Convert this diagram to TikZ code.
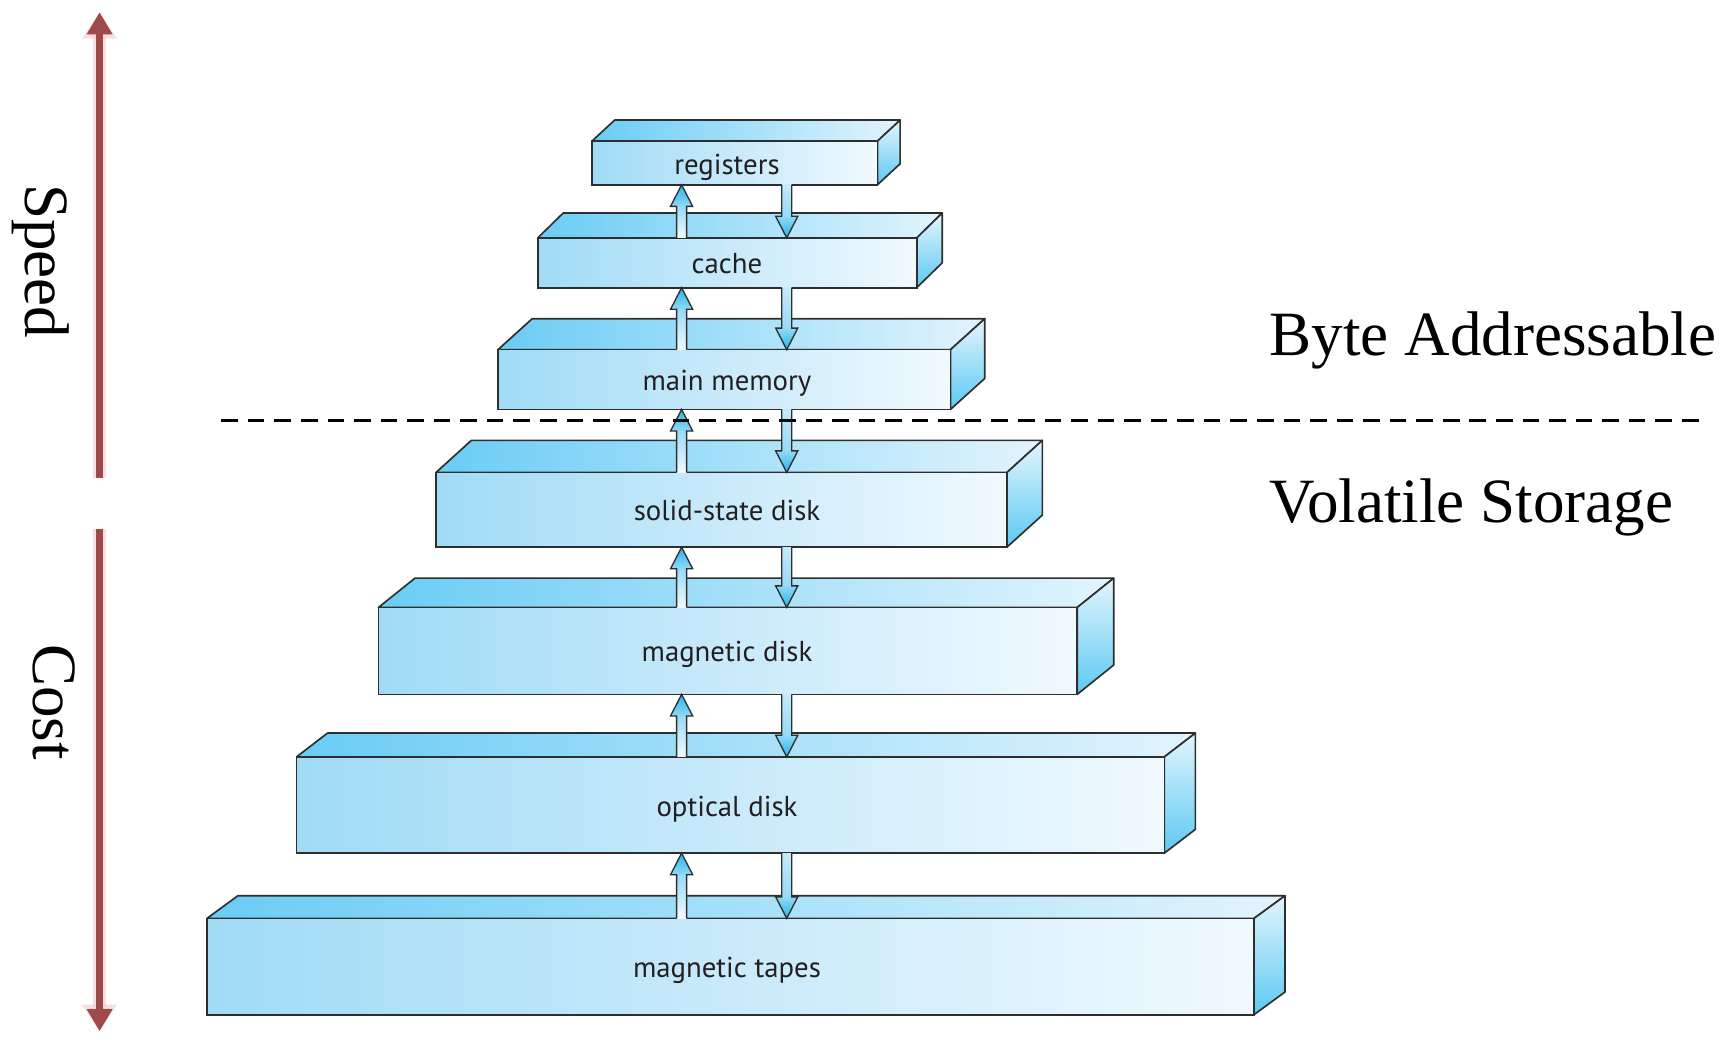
\documentclass[tikz,border=0pt]{standalone}
\usepackage{fontspec}
\setmainfont{Liberation Serif}
\newfontfamily\lblfont{PT Sans}
\usetikzlibrary{arrows.meta,calc}
\definecolor{topL}{HTML}{6ACCF5}
\definecolor{topR}{HTML}{E2F4FD}
\definecolor{frontL}{HTML}{A0DBF6}
\definecolor{frontR}{HTML}{F0F9FE}
\definecolor{sideT}{HTML}{E3F5FD}
\definecolor{sideB}{HTML}{5CC9F3}
\definecolor{edgecol}{HTML}{2E2E2E}
\definecolor{txtcol}{HTML}{231F20}
\definecolor{headD}{HTML}{27B4EA}
\definecolor{headL}{HTML}{8FD9F6}
\definecolor{shaftD}{HTML}{98DAF6}
\definecolor{shaftL}{HTML}{F2FAFE}
\definecolor{redarrow}{HTML}{A0494A}
\definecolor{redglow}{HTML}{E8BDBD}

\newcommand{\slab}[8]{%
  \pgfmathsetmacro\slabw{(#4-#2)*0.5}%
  \pgfmathsetmacro\slabh{(#5-#3)*0.5}%
  \shadedraw[slabline, left color=topL, right color=topR]
    (#2,#3) -- ({#2+#6},{#3-#7}) -- ({#4+#6},{#3-#7}) -- (#4,#3) -- cycle;
  \shadedraw[slabline, top color=sideT, bottom color=sideB]
    (#4,#3) -- ({#4+#6},{#3-#7}) -- ({#4+#6},{#5-#7}) -- (#4,#5) -- cycle;
  \node[frontface, minimum width=\slabw pt, minimum height=\slabh pt]
    (#1) at ({(#2+#4)/2},{(#3+#5)/2}) {};
  \node[lbl] (#1-label) at (657,{(#3+#5)/2+10}) {#8};
}

\newcommand{\uparr}[2]{%
  \shade[top color=shaftD, bottom color=shaftL]
    ($(#1)+(-4.5,0)$) rectangle ($(#2)+(4.5,19.5)$);
  \shade[top color=headD, bottom color=headL]
    (#2) -- ($(#2)+(10,19.5)$) -- ($(#2)+(-10,19.5)$) -- cycle;
  \draw[arrline] ($(#1)+(-4.5,0)$) -- ($(#2)+(-4.5,19.5)$) -- ($(#2)+(-10,19.5)$)
    -- (#2) -- ($(#2)+(10,19.5)$) -- ($(#2)+(4.5,19.5)$) -- ($(#1)+(4.5,0)$);
}
\newcommand{\dnarr}[2]{%
  \shade[top color=shaftL!50!shaftD, bottom color=shaftD]
    ($(#1)+(-4.5,0)$) rectangle ($(#2)+(4.5,-19.5)$);
  \shade[top color=headL, bottom color=headD]
    (#2) -- ($(#2)+(10,-19.5)$) -- ($(#2)+(-10,-19.5)$) -- cycle;
  \draw[arrline] ($(#1)+(-4.5,0)$) -- ($(#2)+(-4.5,-19.5)$) -- ($(#2)+(-10,-19.5)$)
    -- (#2) -- ($(#2)+(10,-19.5)$) -- ($(#2)+(4.5,-19.5)$) -- ($(#1)+(4.5,0)$);
}

\begin{document}
\begin{tikzpicture}[x=0.5pt,y=-0.5pt,
  slabline/.style={draw=edgecol, line width=0.75pt, line join=round},
  frontface/.style={rectangle, draw=edgecol, line width=0.75pt, left color=frontL,
    right color=frontR, inner sep=0pt, outer sep=0pt},
  lbl/.style={anchor=base, inner sep=0pt, text=txtcol,
    font=\lblfont\fontsize{13}{15}\selectfont},
  arrline/.style={draw=edgecol, line width=0.6pt, line join=miter},
  bigtxt/.style={inner sep=0pt, text=black, font=\fontsize{28.5}{34}\selectfont},
  glowline/.style={draw=redglow, line width=6pt, opacity=0.45,
    -{Triangle[width=15pt,length=12pt]}},
  redline/.style={draw=redarrow, line width=3.5pt,
    -{Triangle[width=11pt,length=10pt]}},
  sepline/.style={draw=black, line width=1pt, dash pattern=on 7.5pt off 4.5pt}
]
\useasboundingbox (0,0) rectangle (1568,944);

% speed / cost arrows
\coordinate (s0) at (90,432);
\coordinate (s1) at (90,11);
\coordinate (c0) at (90,478);
\coordinate (c1) at (90,932);
\draw[glowline] (s0) -- (s1);
\draw[redline] (s0) -- (s1);
\draw[glowline] (c0) -- (c1);
\draw[redline] (c0) -- (c1);
\node[bigtxt, rotate=-90, anchor=base] (speed) at (22.6,236) {Speed};
\node[bigtxt, rotate=-90, anchor=base] (cost) at (30,634.5) {Cost};

% storage slabs
\slab{reg}{535}{127.5}{793}{167}{20.5}{19}{registers}
\slab{cache}{486}{215}{828.5}{260}{23}{22.5}{cache}
\slab{mm}{450}{316}{859}{370}{31}{28}{main memory}
\slab{ssd}{394}{427}{910}{494.5}{32}{29}{solid-state disk}
\slab{md}{342}{549}{973.5}{627.5}{33}{26.5}{magnetic disk}
\slab{od}{268}{684}{1052.3}{771}{28}{21.5}{optical disk}
\slab{mt}{187}{830}{1133.3}{917}{28}{20.5}{magnetic tapes}

% transfer arrows
\coordinate (ux) at (616,0);
\coordinate (dx) at (711,0);
\uparr{cache.north -| ux}{reg.south -| ux}
\dnarr{reg.south -| dx}{cache.north -| dx}
\uparr{mm.north -| ux}{cache.south -| ux}
\dnarr{cache.south -| dx}{mm.north -| dx}
\uparr{ssd.north -| ux}{mm.south -| ux}
\dnarr{mm.south -| dx}{ssd.north -| dx}
\uparr{md.north -| ux}{ssd.south -| ux}
\dnarr{ssd.south -| dx}{md.north -| dx}
\uparr{od.north -| ux}{md.south -| ux}
\dnarr{md.south -| dx}{od.north -| dx}
\uparr{mt.north -| ux}{od.south -| ux}
\dnarr{od.south -| dx}{mt.north -| dx}

% separator
\coordinate (dl) at (200,380);
\coordinate (dr) at (1535,380);
\draw[sepline] (dl) -- (dr);

\node[bigtxt, anchor=base west] (byte) at (1147,321) {Byte Addressable};
\node[bigtxt, anchor=base west] (vol) at (1147,472) {Volatile Storage};
\end{tikzpicture}
\end{document}
